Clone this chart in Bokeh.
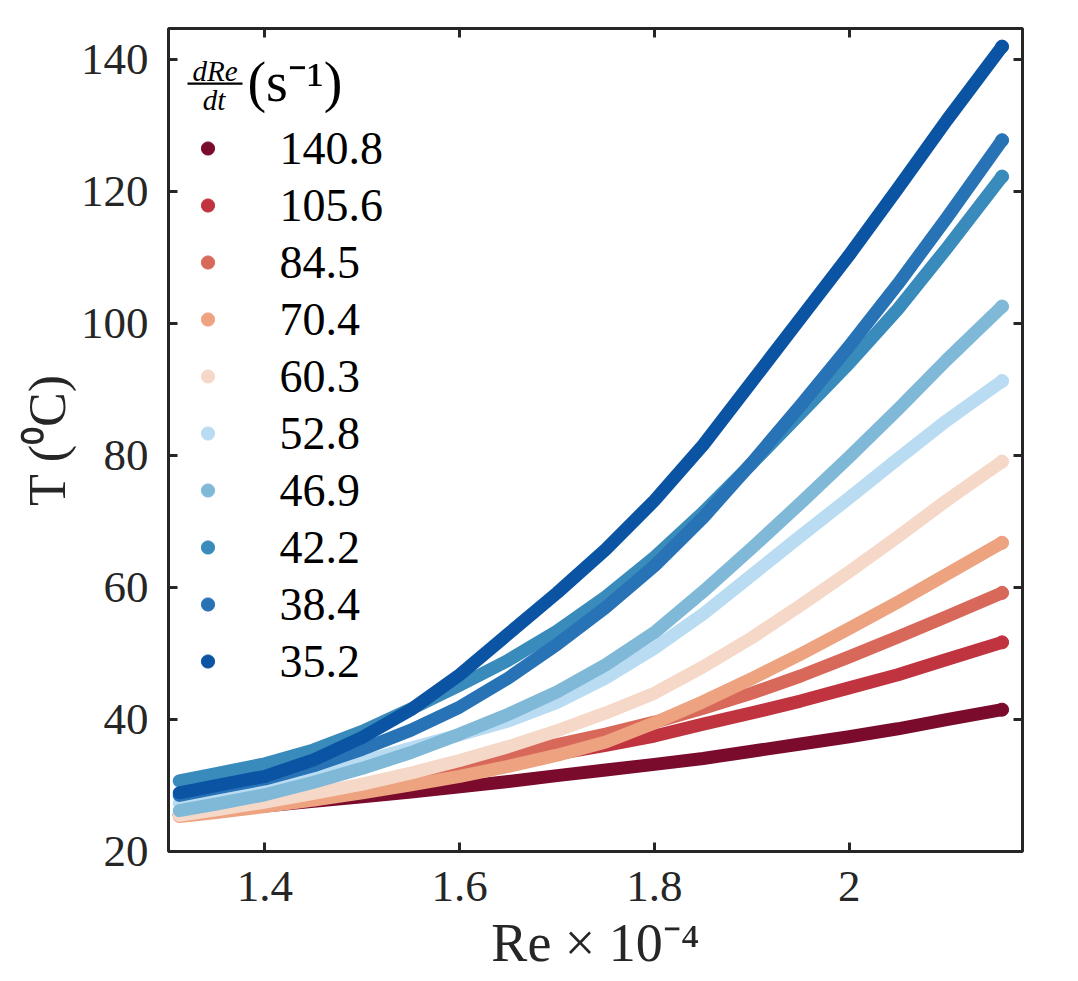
from bokeh.plotting import figure
from bokeh.models import (Range1d, LinearAxis, FixedTicker, CustomJSTickFormatter,
                          Legend, LegendItem, Label, BoxAnnotation, ColumnDataSource)
from bokeh.embed import file_html
from bokeh.resources import INLINE

# ---------------- data ----------------
RE = [1.312, 1.35, 1.40, 1.45, 1.50, 1.55, 1.60, 1.65, 1.70, 1.75,
      1.80, 1.85, 1.90, 1.95, 2.00, 2.05, 2.10, 2.157]

RATES = ["140.8", "105.6", "84.5", "70.4", "60.3", "52.8", "46.9", "42.2", "38.4", "35.2"]

T_140_8 = [25.6, 26.2, 26.9, 27.6, 28.3, 29.0, 29.8, 30.6, 31.5, 32.35,
           33.2, 34.1, 35.2, 36.3, 37.4, 38.6, 40.0, 41.5]
T_105_6 = [25.6, 26.4, 27.5, 28.7, 29.9, 31.1, 32.3, 33.5, 34.8, 36.1,
           37.5, 39.3, 41.0, 42.8, 44.8, 46.8, 49.1, 51.7]
T_84_5 = [25.5, 26.3, 27.3, 28.6, 30.0, 31.4, 33.0, 34.6, 36.2, 37.8,
          39.6, 41.7, 44.0, 46.6, 49.5, 52.5, 55.6, 59.2]
T_70_4 = [25.3, 25.9, 26.8, 27.8, 28.9, 30.1, 31.4, 32.9, 34.6, 36.6,
          39.5, 42.7, 46.2, 49.9, 53.8, 57.8, 62.0, 66.8]
T_60_3 = [25.5, 26.3, 27.5, 28.8, 30.2, 31.9, 33.8, 35.9, 38.3, 41.0,
          44.0, 48.0, 52.4, 57.3, 62.4, 67.7, 73.2, 79.1]
T_52_8 = [27.3, 28.4, 29.9, 31.6, 33.6, 35.7, 37.7, 39.8, 42.6, 46.3,
          50.8, 56.0, 61.9, 67.8, 73.6, 79.5, 85.3, 91.3]
T_46_9 = [26.2, 27.2, 28.6, 30.5, 32.6, 35.0, 37.8, 40.8, 44.2, 48.3,
          53.2, 59.4, 66.0, 72.8, 79.8, 87.0, 94.5, 102.6]
T_42_2 = [30.7, 31.8, 33.3, 35.4, 38.2, 41.6, 45.2, 49.0, 53.4, 58.6,
          64.6, 71.4, 78.8, 86.4, 94.0, 102.2, 111.4, 122.3]
T_38_4 = [28.5, 29.6, 31.0, 33.0, 35.5, 38.4, 41.9, 46.3, 51.4, 57.0,
          63.3, 70.6, 78.9, 87.6, 96.6, 106.0, 116.0, 127.8]
T_35_2 = [28.9, 30.0, 31.4, 33.9, 37.3, 41.5, 46.8, 53.0, 59.2, 65.8,
          73.2, 81.6, 91.2, 100.8, 110.4, 120.5, 130.8, 142.0]

SERIES = [T_140_8, T_105_6, T_84_5, T_70_4, T_60_3,
          T_52_8, T_46_9, T_42_2, T_38_4, T_35_2]

COLORS = ["#7b0b2d", "#c0343f", "#d8695a", "#eda280", "#f6d8c8",
          "#b9dcf2", "#80b9d8", "#398bbb", "#2872b6", "#0b54a4"]

X_TICKS = [1.4, 1.6, 1.8, 2.0]
Y_TICKS = [20, 40, 60, 80, 100, 120, 140]

# ---------------- figure ----------------
AX = "#262626"
FONT = "Liberation Serif"

p = figure(width=1068, height=979, output_backend="svg", toolbar_location=None,
           x_range=Range1d(1.30095, 2.17797), y_range=Range1d(20, 144.74),
           min_border_left=168, min_border_right=46, min_border_top=28,
           min_border_bottom=128)
p.grid.visible = False
p.outline_line_color = AX
p.outline_line_width = 3
p.outline_line_alpha = 1.0
p.background_fill_color = "white"
p.border_fill_color = "white"


def style_axis(ax):
    ax.axis_line_color = None
    ax.major_tick_line_color = AX
    ax.major_tick_line_width = 3
    ax.major_tick_in = 9
    ax.major_tick_out = 0
    ax.minor_tick_line_color = None
    ax.major_label_text_font = FONT
    ax.major_label_text_font_size = "45px"
    ax.major_label_text_color = AX
    ax.axis_label_text_font = FONT
    ax.axis_label_text_font_style = "normal"
    ax.axis_label_text_color = AX


xa = p.xaxis[0]
ya = p.yaxis[0]
style_axis(xa)
style_axis(ya)
xa.ticker = FixedTicker(ticks=X_TICKS)
ya.ticker = FixedTicker(ticks=Y_TICKS)
xa.formatter = CustomJSTickFormatter(code="return (Math.round(tick*10)/10).toString();")
xa.major_label_standoff = 20
ya.major_label_standoff = 20
xa.axis_label = "Re × 10⁻⁴"
ya.axis_label = "T (⁰C)"
xa.axis_label_text_font_size = "54px"
ya.axis_label_text_font_size = "52px"
xa.axis_label_standoff = 9
ya.axis_label_standoff = 2

blank = "return '';"
top_ax = LinearAxis(ticker=FixedTicker(ticks=X_TICKS), formatter=CustomJSTickFormatter(code=blank))
right_ax = LinearAxis(ticker=FixedTicker(ticks=Y_TICKS), formatter=CustomJSTickFormatter(code=blank))
for ax in (top_ax, right_ax):
    style_axis(ax)
    ax.major_label_standoff = 0
    ax.major_label_text_font_size = "1px"
p.add_layout(top_ax, "above")
p.add_layout(right_ax, "right")

# ---------------- curves ----------------
dots = []
for ser, col in zip(SERIES, COLORS):
    src = ColumnDataSource(dict(x=RE, y=ser))
    p.line("x", "y", source=src, line_color=col, line_width=13,
           line_cap="round", line_join="round")
    r = p.scatter(x=[RE[-1]], y=[ser[-1]], size=13, color=col, line_color=col)
    dots.append(r)

legend = Legend(items=[LegendItem(label=lab, renderers=[r]) for lab, r in zip(RATES, dots)],
                location=(22.5, 163), orientation="vertical",
                label_text_font=FONT, label_text_font_size="46px", label_text_color="black",
                glyph_width=33, glyph_height=54, label_height=54, label_standoff=56,
                spacing=3, padding=0, margin=0, border_line_color=None,
                background_fill_alpha=0)
p.add_layout(legend)


# helpers: page pixel -> data coordinate (for the legend-title annotation)
def dx(px):
    return 1.4 + (px - 264.5) / 974.3


def dy(py):
    return 20 + (851.0 - py) / 6.598


# legend title  dRe/dt (s^-1)
p.add_layout(Label(x=dx(214.5), y=dy(70), text="dRe", text_align="center",
                   text_baseline="middle", text_font=FONT, text_font_size="29px",
                   text_font_style="italic", text_color="black"))
p.add_layout(Label(x=dx(213.5), y=dy(99), text="dt", text_align="center",
                   text_baseline="middle", text_font=FONT, text_font_size="29px",
                   text_font_style="italic", text_color="black"))
p.add_layout(BoxAnnotation(left=dx(187), right=dx(242), top=dy(82), bottom=dy(84.2),
                           fill_color="black", fill_alpha=1, line_color=None))
p.add_layout(Label(x=dx(247), y=dy(81), text="(s⁻¹)", text_align="left",
                   text_baseline="middle", text_font=FONT, text_font_size="56px",
                   text_color="black"))

open("out.html", "w").write(file_html(p, INLINE))
